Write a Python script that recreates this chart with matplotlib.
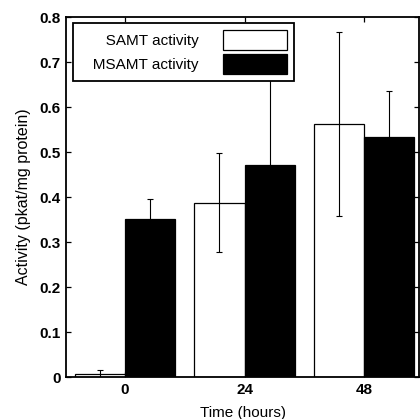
import matplotlib
matplotlib.use("Agg")
import matplotlib.pyplot as plt
import numpy as np

times = ["0", "24", "48"]
samt = [0.007, 0.387, 0.562]
samt_err = [0.009, 0.110, 0.205]
msamt = [0.352, 0.472, 0.534]
msamt_err = [0.043, 0.290, 0.103]
labels = ['SAMT activity', 'MSAMT activity']

plt.rcParams['font.family'] = ['Liberation Sans', 'DejaVu Sans']

fig = plt.figure(figsize=(4.2, 4.19), dpi=100)
ax = fig.add_axes([0.157, 0.100, 0.841, 0.859])

x = np.arange(len(times))
w = 0.42
b1 = ax.bar(x - w/2, samt, w, color='white', edgecolor='black', linewidth=0.9,
            zorder=2)
b2 = ax.bar(x + w/2, msamt, w, color='black', edgecolor='black', linewidth=0.9,
            zorder=2)
ax.errorbar(x - w/2, samt, yerr=samt_err, fmt='none', ecolor='black',
            elinewidth=0.8, capsize=2, capthick=0.8, zorder=3)
ax.errorbar(x + w/2, msamt, yerr=msamt_err, fmt='none', ecolor='black',
            elinewidth=0.8, capsize=2, capthick=0.8, zorder=1)

ax.set_xlim(-0.494, 2.46)
ax.set_ylim(0, 0.8)
ax.set_xticks(x)
ax.set_xticklabels(times)
ax.set_yticks(np.arange(0, 0.81, 0.1))
ax.set_yticklabels(['0'] + ['%.1f' % v for v in np.arange(0.1, 0.81, 0.1)])
ax.tick_params(direction='in', top=True, right=True, length=3.5, width=0.9,
               labelsize=11, pad=4)
for lab in ax.get_xticklabels() + ax.get_yticklabels():
    lab.set_fontweight('bold')
for s in ax.spines.values():
    s.set_linewidth(1.3)

ax.set_xlabel('Time (hours)', fontsize=11, labelpad=7)
ax.set_ylabel('Activity (pkat/mg protein)', fontsize=11.5, labelpad=6)

# leading spaces widen the box on the left like the original
leg = ax.legend([b1, b2], ['   ' + l for l in labels], loc='upper left',
                bbox_to_anchor=(0.02, 0.983), markerfirst=False,
                handlelength=4.2, handleheight=1.6, fontsize=11, frameon=True,
                framealpha=1, fancybox=False, borderpad=0.45, labelspacing=0.3,
                handletextpad=1.6, borderaxespad=0)
leg.get_frame().set_edgecolor('black')
leg.get_frame().set_linewidth(1.3)
leg.set_zorder(5)
for t in leg.get_texts():
    t.set_ha('right')

fig.savefig('out.png', dpi=100)
